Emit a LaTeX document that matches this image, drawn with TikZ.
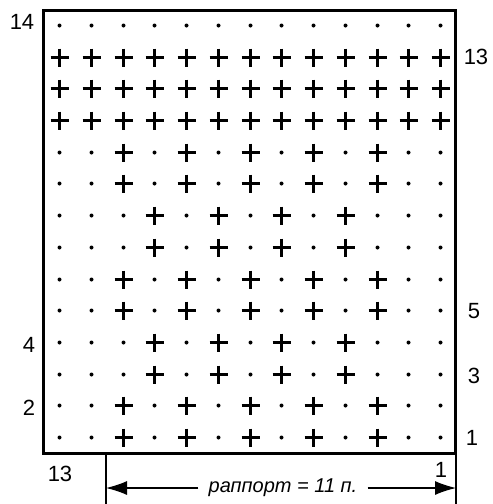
\documentclass[tikz,border=0pt]{standalone}
\usepackage{fontspec}
\setmainfont{Liberation Sans}
\usetikzlibrary{arrows.meta}
\begin{document}
\begin{tikzpicture}[x=1pt,y=-1pt,
  lab/.style={font=\fontsize{22}{22}\selectfont, inner sep=0pt},
  pluscell/.style={line width=3pt},
  dotcell/.style={fill=black},
  frame/.style={line width=3pt, line cap=rect},
  guide/.style={line width=1.1pt},
  dimarrow/.style={line width=1.1pt, -{Latex[length=21pt,width=14pt]}}]
\useasboundingbox (0,0) rectangle (493,504);
% frame
\draw[frame] (43.5,10.5) rectangle (455.5,453.5);
% cells
\foreach \r in {1,...,14}{
  \foreach \c in {1,...,13}{
    \pgfmathsetmacro{\cx}{round(59+(\c-1)*31.75)+0.5}
    \pgfmathsetmacro{\cy}{round(437-(\r-1)*31.7)+0.5}
    \pgfmathtruncatemacro{\isplus}{
      (\r>=11 && \r<=13) ? 1 :
      ((\r==14) ? 0 :
      (((\r==1 || \r==2 || \r==5 || \r==6 || \r==9 || \r==10) && (\c==3 || \c==5 || \c==7 || \c==9 || \c==11)) ? 1 :
      (((\r==3 || \r==4 || \r==7 || \r==8) && (\c==4 || \c==6 || \c==8 || \c==10)) ? 1 : 0)))}
    \ifnum\isplus=1
      \draw[pluscell] (\cx-9,\cy) -- (\cx+9,\cy) (\cx,\cy-9) -- (\cx,\cy+9);
    \else
      \fill[dotcell] (\cx,\cy) circle (2pt);
    \fi
  }
}
% row labels
\node[lab] (l14) at (22,22) {14};
\node[lab] (r13) at (476,57) {13};
\node[lab] (r5) at (474,311) {5};
\node[lab] (l4) at (29,345) {4};
\node[lab] (r3) at (474,376) {3};
\node[lab] (l2) at (29,408) {2};
\node[lab] (r1) at (472,438) {1};
% column labels
\node[lab] (c13) at (60,474) {13};
\node[lab] (c1) at (441,470) {1};
% dimension line
\coordinate (gl1) at (106,454);
\coordinate (gl2) at (106,504);
\coordinate (gr1) at (456,454);
\coordinate (gr2) at (456,504);
\draw[guide] (gl1) -- (gl2);
\draw[guide] (gr1) -- (gr2);
\coordinate (al) at (106,488);
\coordinate (ar) at (456,488);
\node[font=\fontsize{20}{20}\selectfont\itshape, inner xsep=10pt, inner ysep=2pt] (rap) at (283,488) {раппорт = 11 п.};
\draw[dimarrow] (rap.west) -- (al);
\draw[dimarrow] (rap.east) -- (ar);
\end{tikzpicture}
\end{document}
